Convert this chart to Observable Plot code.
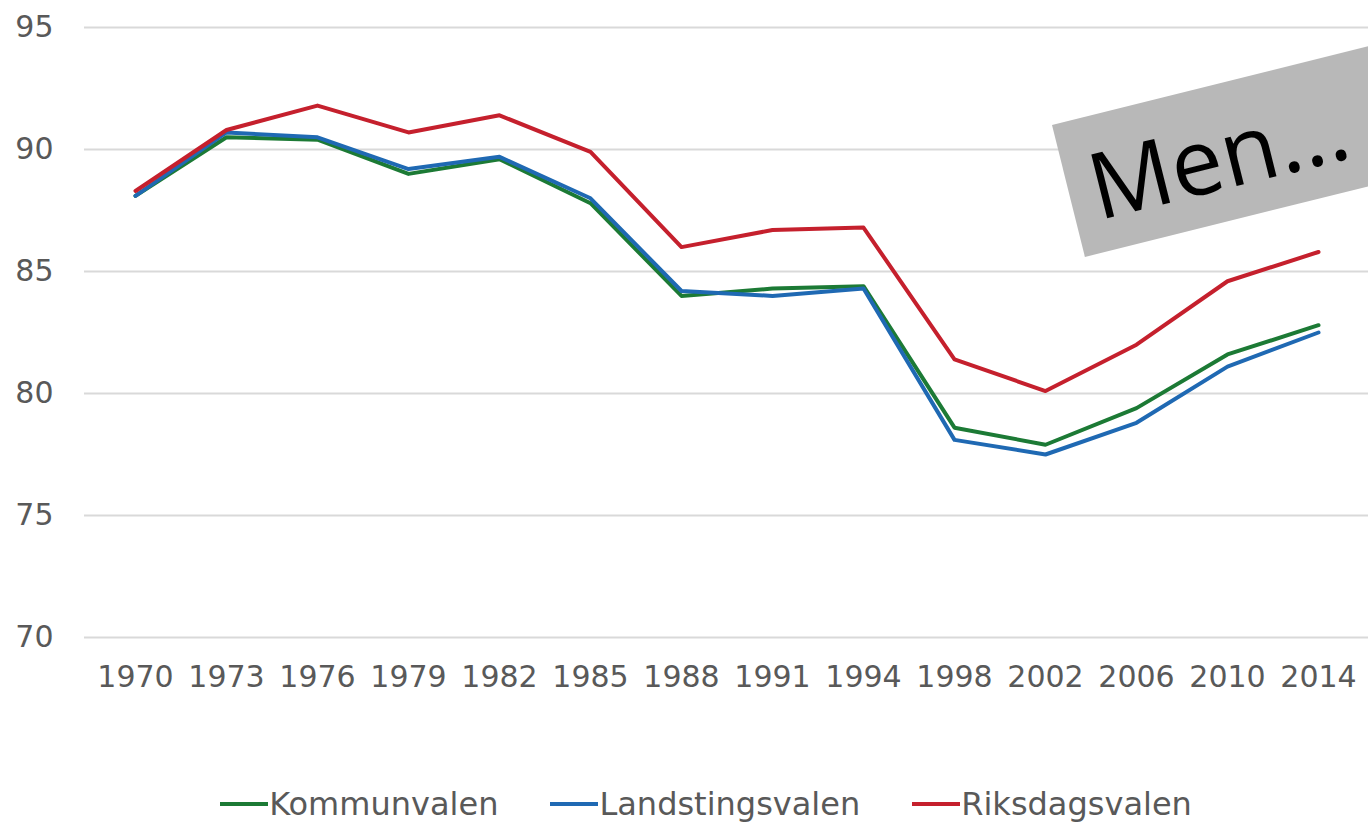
<!DOCTYPE html>
<html>
<head>
<meta charset="utf-8">
<script src="https://cdn.jsdelivr.net/npm/d3@7"></script>
<script src="https://cdn.jsdelivr.net/npm/@observablehq/plot@0.6"></script>
<style>
  html, body { margin: 0; padding: 0; background: #fff; }
  #wrap { position: relative; width: 1368px; height: 825px; overflow: hidden; font-family: "DejaVu Sans", Verdana, sans-serif; }
  #legend { position: absolute; left: 0; top: 789px; width: 1412px; height: 30px; display: flex; justify-content: center; align-items: center; gap: 52px; font-size: 32px; line-height: 30px; color: #595959; }
  .item { display: flex; align-items: center; white-space: nowrap; }
  .sw { width: 48px; height: 4px; margin-right: 1px; }
</style>
</head>
<body>
<div id="wrap"></div>
<script>
// ---- data ----
const years = ["1970","1973","1976","1979","1982","1985","1988","1991","1994","1998","2002","2006","2010","2014"];
const kommunvalen =     [88.1, 90.5, 90.4, 89.0, 89.6, 87.8, 84.0, 84.3, 84.4, 78.6, 77.9, 79.4, 81.6, 82.8];
const landstingsvalen = [88.1, 90.7, 90.5, 89.2, 89.7, 88.0, 84.2, 84.0, 84.3, 78.1, 77.5, 78.8, 81.1, 82.5];
const riksdagsvalen =   [88.3, 90.8, 91.8, 90.7, 91.4, 89.9, 86.0, 86.7, 86.8, 81.4, 80.1, 82.0, 84.6, 85.8];
const seriesNames = ["Kommunvalen", "Landstingsvalen", "Riksdagsvalen"];
const seriesColors = ["#1c7a35", "#1f69b3", "#c5202d"];
const yTicks = [70, 75, 80, 85, 90, 95];
const annotationText = "Men...";

const seriesValues = [kommunvalen, landstingsvalen, riksdagsvalen];
const rows = [];
seriesNames.forEach((s, i) => years.forEach((yr, j) => rows.push({series: s, year: yr, value: seriesValues[i][j]})));

const chart = Plot.plot({
  width: 1368,
  height: 740,
  marginTop: 27,
  marginBottom: 103,
  marginLeft: 84,
  marginRight: 0,
  style: { fontFamily: "DejaVu Sans, Verdana, sans-serif", fontSize: "30px", color: "#595959", background: "transparent" },
  x: { type: "point", domain: years, padding: 0.5, label: null },
  y: { domain: [70, 95], ticks: yTicks, label: null },
  color: { domain: seriesNames, range: seriesColors },
  marks: [
    Plot.gridY(yTicks, { stroke: "#d9d9d9", strokeOpacity: 1, strokeWidth: 2 }),
    Plot.axisX({ tickSize: 0, tickPadding: 28, fill: "#595959", label: null }),
    Plot.axisY(yTicks, { tickSize: 0, tickPadding: 31, fill: "#595959", label: null }),
    Plot.line(rows, { x: "year", y: "value", z: "series", stroke: "series", strokeWidth: 4, strokeLinejoin: "round" })
  ]
});

// annotation box "Men..."
const g = d3.select(chart).append("g").attr("transform", "translate(1052,125) rotate(-14)");
g.append("rect").attr("width", 520).attr("height", 136).attr("fill", "#b8b8b8");
g.append("text").attr("x", 22).attr("y", 104).attr("text-anchor", "start")
  .attr("font-family", "Open Sans, sans-serif").attr("font-size", 92).attr("fill", "#000")
  .text(annotationText);

const wrap = document.getElementById("wrap");
wrap.appendChild(chart);

// legend
const legend = document.createElement("div");
legend.id = "legend";
seriesNames.forEach((s, i) => {
  const it = document.createElement("div");
  it.className = "item";
  const sw = document.createElement("span");
  sw.className = "sw";
  sw.style.background = seriesColors[i];
  const tx = document.createElement("span");
  tx.textContent = s;
  it.appendChild(sw); it.appendChild(tx);
  legend.appendChild(it);
});
wrap.appendChild(legend);
</script>
</body>
</html>
